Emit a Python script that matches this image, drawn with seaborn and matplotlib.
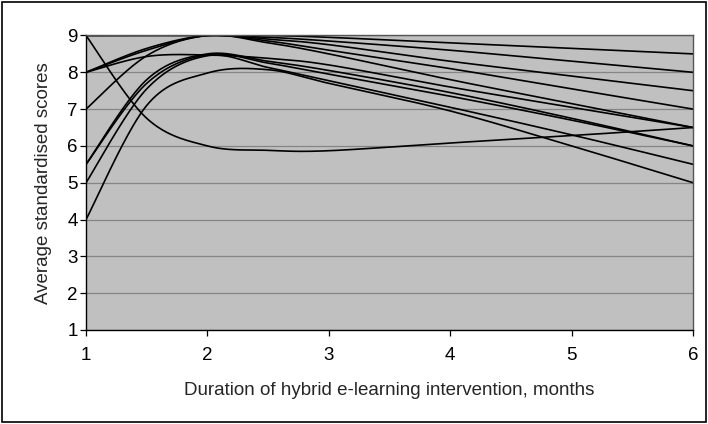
"""
Average standardised scores over the duration of a hybrid e-learning intervention
Excel-style smoothed line chart redrawn with seaborn
"""

import numpy as np
import pandas as pd
import matplotlib
matplotlib.use("Agg")
import matplotlib.pyplot as plt
from matplotlib.patches import Rectangle
import seaborn as sns

# months on the x axis (half months read near the start, where the curves bend)
months = [1, 1.5, 2, 2.5, 3, 4, 5, 6]

# groups that reach the top score around month 2
u1 = [9.0, 9.0, 9.0, 9.0, 8.95, 8.8, 8.65, 8.5]
u2 = [9.0, 9.0, 9.0, 8.95, 8.85, 8.6, 8.3, 8.0]
u3 = [8.0, 8.65, 9.0, 8.9, 8.75, 8.3, 7.9, 7.5]
u4 = [8.0, 8.6, 9.0, 8.85, 8.6, 8.1, 7.55, 7.0]
u5 = [7.0, 8.45, 9.0, 8.8, 8.5, 7.8, 7.15, 6.5]

# groups that level off around 8-8.5
l1 = [8.0, 8.43, 8.47, 8.38, 8.2, 7.6, 7.05, 6.5]
l2 = [5.5, 7.8, 8.5, 8.3, 8.05, 7.45, 6.75, 6.0]
l3 = [5.5, 7.7, 8.48, 8.25, 7.95, 7.35, 6.7, 6.0]
l4 = [5.0, 7.55, 8.45, 8.13, 7.77, 7.05, 6.3, 5.5]
l5 = [4.0, 7.1, 7.98, 8.07, 7.7, 6.95, 6.0, 5.0]

# group that drops and recovers
dip = [9.0, 6.75, 6.0, 5.88, 5.87, 6.08, 6.28, 6.5]

series = [u1, u2, u3, u4, u5, l1, l2, l3, l4, l5, dip]

x_ticks = [1, 2, 3, 4, 5, 6]
y_ticks = [1, 2, 3, 4, 5, 6, 7, 8, 9]
x_label = "Duration of hybrid e-learning intervention, months"
y_label = "Average standardised scores"


def excel_smooth(x, y, steps=40):
    """Bezier smoothing like Excel's 'smoothed line' option"""
    x = np.asarray(x, float)
    y = np.asarray(y, float)
    n = len(x)
    out_x, out_y = [], []
    t = np.linspace(0, 1, steps)
    for i in range(n - 1):
        p0 = np.array([x[max(i - 1, 0)], y[max(i - 1, 0)]])
        p1 = np.array([x[i], y[i]])
        p2 = np.array([x[i + 1], y[i + 1]])
        p3 = np.array([x[min(i + 2, n - 1)], y[min(i + 2, n - 1)]])
        c1 = p1 + (p2 - p0) / 6
        c2 = p2 - (p3 - p1) / 6
        pts = ((1 - t) ** 3)[:, None] * p1 + (3 * (1 - t) ** 2 * t)[:, None] * c1 \
            + (3 * (1 - t) * t ** 2)[:, None] * c2 + (t ** 3)[:, None] * p2
        out_x.extend(pts[:, 0])
        out_y.extend(pts[:, 1])
    return out_x, out_y


# long table of the smoothed curves
rows = []
for k, vals in enumerate(series):
    sx, sy = excel_smooth(months, vals)
    for a, b in zip(sx, sy):
        rows.append({"series": k, "month": a, "score": b})
df = pd.DataFrame(rows)

sns.set_theme(style="white")
plt.rcParams['font.family'] = ['Liberation Sans', 'DejaVu Sans']

fig = plt.figure(figsize=(7.08, 4.24), dpi=100)
ax = fig.add_axes([0.1215, 0.2217, 0.8575, 0.6946])
ax.set_facecolor("#c0c0c0")

sns.lineplot(data=df, x="month", y="score", units="series", estimator=None,
             color="black", linewidth=1.2, sort=False, ax=ax, legend=False)

ax.set_xlim(1, 6)
ax.set_ylim(1, 9)
ax.set_xticks(x_ticks)
ax.set_yticks(y_ticks)
ax.yaxis.grid(True, color="#858585", linewidth=0.9)
ax.xaxis.grid(False)
ax.set_axisbelow(True)

ax.tick_params(axis="both", labelsize=13.5, colors="black", length=4,
               width=0.9, direction="out", left=True, bottom=True)
ax.tick_params(axis="y", pad=2)
ax.tick_params(axis="x", pad=8)

for side in ["left", "bottom"]:
    ax.spines[side].set_color("black")
    ax.spines[side].set_linewidth(1.0)
for side in ["top", "right"]:
    ax.spines[side].set_color("#555555")
    ax.spines[side].set_linewidth(1.0)

ax.set_xlabel(x_label, fontsize=13.5, labelpad=13)
ax.set_ylabel(y_label, fontsize=13.5, labelpad=11)

# outer frame round the whole chart
fig.patches.append(Rectangle((0.003, 0.004), 0.994, 0.992, transform=fig.transFigure,
                             fill=False, edgecolor="black", linewidth=1.2))

fig.savefig("out.png", dpi=100)
